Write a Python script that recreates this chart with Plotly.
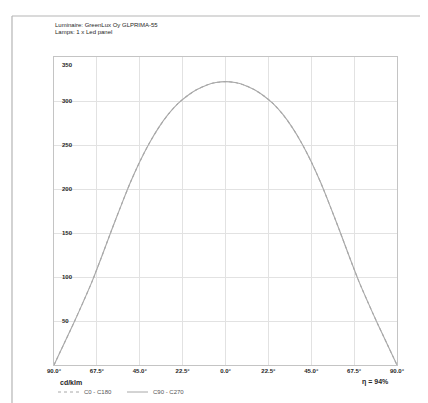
import plotly.graph_objects as go

# Data (luminous intensity, cd/klm)
angles = [-90, -85, -80, -75, -70, -65, -60, -55, -50, -45, -40, -35, -30, -25, -20, -15, -10, -5,
          0, 5, 10, 15, 20, 25, 30, 35, 40, 45, 50, 55, 60, 65, 70, 75, 80, 85, 90]
c0_c180 = [0, 23, 46, 70, 95, 123, 152, 180, 207, 231, 252, 270, 285, 297, 306, 313, 318, 321,
           322, 321, 318, 313, 306, 297, 285, 270, 252, 231, 207, 180, 152, 123, 95, 70, 46, 23, 0]
c90_c270 = [0, 23, 46, 70, 95, 123, 152, 180, 207, 231, 252, 270, 285, 297, 306, 313, 318, 321,
            322, 321, 318, 313, 306, 297, 285, 270, 252, 231, 207, 180, 152, 123, 95, 70, 46, 23, 0]

x_tickvals = [-90, -67.5, -45, -22.5, 0, 22.5, 45, 67.5, 90]
x_ticktext = ["90.0°", "67.5°", "45.0°", "22.5°", "0.0°", "22.5°", "45.0°", "67.5°", "90.0°"]
y_tickvals = [50, 100, 150, 200, 250, 300, 350]
y_ticktext = ["50", "100", "150", "200", "250", "300", "350"]

title_lines = ["Luminaire: GreenLux Oy GLPRIMA-55", "Lamps: 1 x Led panel"]
unit_label = "cd/klm"
efficiency = "η = 94%"
series_names = ["C0 - C180", "C90 - C270"]

W, H = 428, 403
L, R, T, B = 46, 389, 49, 357
pw, ph = R - L, B - T


def px(x):
    return (x - L) / pw


def py(y):
    return (B - y) / ph


FONT = "Liberation Sans"
TXT = "#262626"
LINE = "#a8a8a8"

fig = go.Figure()
fig.add_trace(go.Scatter(x=angles, y=c0_c180, mode="lines", name=series_names[0],
                         line=dict(color=LINE, width=1.1, dash="dot", shape="spline", smoothing=0.8),
                         showlegend=False))
fig.add_trace(go.Scatter(x=angles, y=c90_c270, mode="lines", name=series_names[1],
                         line=dict(color=LINE, width=1.1, shape="spline", smoothing=0.8),
                         showlegend=False))

annotations = []
# y labels inside plot
for v, t in zip(y_tickvals, y_ticktext):
    annotations.append(dict(x=px(52), xref="paper", y=v, yref="y", text="<b>" + t + "</b>",
                            showarrow=False, xanchor="left", yanchor="middle",
                            yshift=-8 if v == 350 else 0,
                            font=dict(family=FONT, size=6, color=TXT)))
# title lines
annotations.append(dict(x=px(45), y=py(17), xref="paper", yref="paper", text=title_lines[0],
                        showarrow=False, xanchor="left", yanchor="middle",
                        font=dict(family=FONT, size=6, color=TXT)))
annotations.append(dict(x=px(45), y=py(24), xref="paper", yref="paper", text=title_lines[1],
                        showarrow=False, xanchor="left", yanchor="middle",
                        font=dict(family=FONT, size=6, color=TXT)))
# unit and efficiency
annotations.append(dict(x=px(50), y=py(374), xref="paper", yref="paper", text="<b>" + unit_label + "</b>",
                        showarrow=False, xanchor="left", yanchor="middle",
                        font=dict(family=FONT, size=7, color=TXT)))
annotations.append(dict(x=px(383), y=py(374), xref="paper", yref="paper", text="<b>" + efficiency + "</b>",
                        showarrow=False, xanchor="right", yanchor="middle",
                        font=dict(family=FONT, size=7, color=TXT)))
# legend texts
annotations.append(dict(x=px(74), y=py(384), xref="paper", yref="paper", text=series_names[0],
                        showarrow=False, xanchor="left", yanchor="middle",
                        font=dict(family=FONT, size=6, color="#555555")))
annotations.append(dict(x=px(143), y=py(384), xref="paper", yref="paper", text=series_names[1],
                        showarrow=False, xanchor="left", yanchor="middle",
                        font=dict(family=FONT, size=6, color="#555555")))

shapes = [
    # outer frame (top and left)
    dict(type="line", xref="paper", yref="paper", x0=px(4), x1=px(428), y0=py(8), y1=py(8),
         line=dict(color="#b5b5b5", width=1.2)),
    dict(type="line", xref="paper", yref="paper", x0=px(4), x1=px(4), y0=py(8), y1=py(403),
         line=dict(color="#b5b5b5", width=1.2)),
    # legend line samples
    dict(type="line", xref="paper", yref="paper", x0=px(50), x1=px(71), y0=py(384), y1=py(384),
         line=dict(color=LINE, width=1, dash="dot")),
    dict(type="line", xref="paper", yref="paper", x0=px(119), x1=px(140), y0=py(384), y1=py(384),
         line=dict(color=LINE, width=1)),
]

fig.update_layout(
    width=W, height=H,
    margin=dict(l=L, r=W - R, t=T, b=H - B),
    paper_bgcolor="white", plot_bgcolor="white",
    showlegend=False,
    annotations=annotations,
    shapes=shapes,
    xaxis=dict(range=[-90, 90], tickvals=x_tickvals, ticktext=["<b>" + t + "</b>" for t in x_ticktext],
               tickfont=dict(family=FONT, size=6, color=TXT),
               showgrid=True, gridcolor="#e2e2e2", gridwidth=1,
               showline=True, linecolor="#c4c4c4", linewidth=1.2, mirror=True,
               zeroline=False, ticks="", fixedrange=True),
    yaxis=dict(range=[0, 350], tickvals=y_tickvals, showticklabels=False,
               showgrid=True, gridcolor="#e2e2e2", gridwidth=1,
               showline=True, linecolor="#c4c4c4", linewidth=1.2, mirror=True,
               zeroline=False, ticks="", fixedrange=True),
)

fig.write_html("out.html")
